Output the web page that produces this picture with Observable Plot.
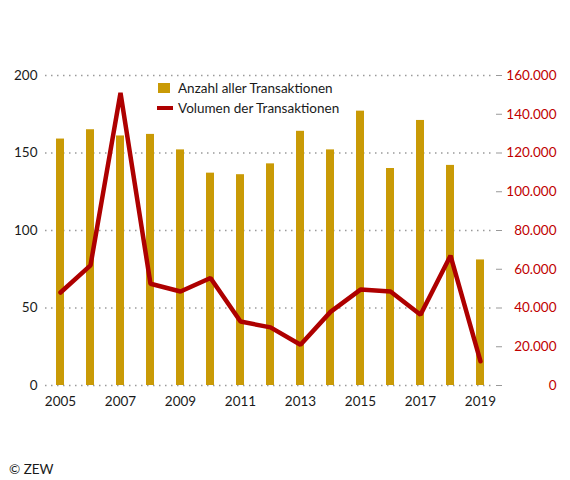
<!DOCTYPE html>
<html><head><meta charset="utf-8">
<script src="https://cdn.jsdelivr.net/npm/d3@7"></script>
<script src="https://cdn.jsdelivr.net/npm/@observablehq/plot@0.6"></script>
<style>
body{margin:0;background:#fff;font-family:Lato,sans-serif;}
#wrap{position:relative;width:570px;height:480px;}
.leg{position:absolute;left:157px;font-size:13.5px;color:#1a1a1a;display:flex;align-items:center;white-space:nowrap;}
.sq{width:12px;height:10px;background:#C99A06;margin-left:1px;margin-right:8px;}
.ln{width:16px;height:4px;background:#AE0000;margin-right:5px;}
#copy{position:absolute;left:9px;top:461px;font-size:13.5px;color:#1a1a1a;}
</style></head><body><div id="wrap"></div>
<script>
const years = [2005,2006,2007,2008,2009,2010,2011,2012,2013,2014,2015,2016,2017,2018,2019];
const transactions = [159,165,161,162,152,137,136,143,164,152,177,140,171,142,81];
const volume = [48000,62000,151000,52500,48500,55500,33000,30000,21000,38000,49500,48500,36500,67000,12500];
const leftTicks = [0,50,100,150,200];
const rightTicks = [0,20000,40000,60000,80000,100000,120000,140000,160000];
const xTickYears = [2005,2007,2009,2011,2013,2015,2017,2019];
const seriesNames = ["Anzahl aller Transaktionen","Volumen der Transaktionen"];
const ratio = 160000/200;

const data = years.map((y,i)=>({year:y, count:transactions[i], vol:volume[i]}));
const fmt = v => d3.format(",")(v).replace(/,/g,".");

const chart = Plot.plot({
  width:570, height:420,
  marginLeft:45, marginRight:75, marginTop:75, marginBottom:35,
  style:{fontFamily:"Lato, sans-serif", fontSize:"13.5px", color:"#1a1a1a", background:"transparent"},
  x:{type:"band", domain:years, paddingInner:0.735, paddingOuter:0.317},
  y:{domain:[0,200]},
  marks:[
    Plot.ruleY(leftTicks, {stroke:"#9a9a9a", strokeWidth:1.5, strokeDasharray:"1.5,4.5"}),
    Plot.barY(data, {x:"year", y:"count", fill:"#C99A06"}),
    Plot.lineY(data, {x:"year", y:d=>d.vol/ratio, stroke:"#AE0000", strokeWidth:4.5, strokeLinejoin:"miter"}),
    Plot.axisY(leftTicks, {anchor:"left", tickSize:0, tickPadding:8, fontSize:13.5, label:null, fill:"#1a1a1a"}),
    Plot.axisY(rightTicks.map(v=>v/ratio), {anchor:"right", tickSize:6, tickFormat:()=>"", stroke:"#999", label:null}),
    Plot.axisY(rightTicks.map(v=>v/ratio), {anchor:"right", tickSize:0, tickPadding:61, textAnchor:"end", tickFormat:v=>fmt(Math.round(v*ratio)), fill:"#C00000", fontSize:13.5, label:null}),
    Plot.axisX(xTickYears, {tickSize:0, tickPadding:11, fontSize:13.5, label:null, fill:"#1a1a1a", tickFormat:d=>String(d)})
  ]
});
const wrap = document.getElementById("wrap");
wrap.appendChild(chart);
const l1 = document.createElement("div"); l1.className="leg"; l1.style.top="80px";
l1.innerHTML = '<span class="sq"></span><span></span>'; l1.lastChild.textContent = seriesNames[0];
const l2 = document.createElement("div"); l2.className="leg"; l2.style.top="100px";
l2.innerHTML = '<span class="ln"></span><span></span>'; l2.lastChild.textContent = seriesNames[1];
wrap.appendChild(l1); wrap.appendChild(l2);
const c = document.createElement("div"); c.id="copy"; c.textContent="© ZEW"; wrap.appendChild(c);
</script>
</body></html>
